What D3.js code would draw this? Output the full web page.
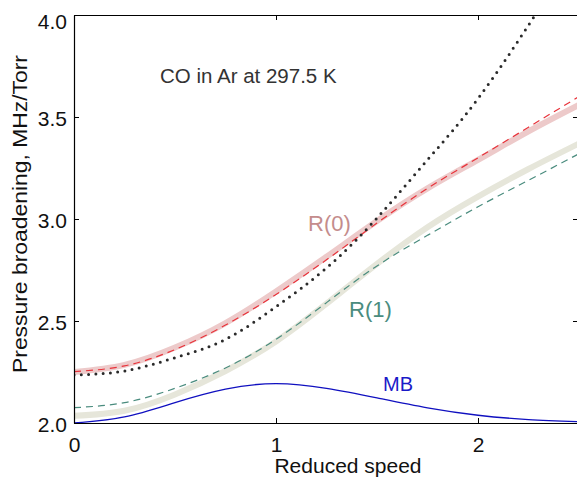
<!DOCTYPE html>
<html>
<head>
<meta charset="utf-8">
<script src="https://cdn.jsdelivr.net/npm/d3@7"></script>
<style>
  body { margin: 0; background: #fff; }
  text { font-family: "Liberation Sans", Arial, sans-serif; }
</style>
</head>
<body>
<svg id="chart"></svg>
<script>
// reduced speed grid used by every curve
var speeds = [0, 0.25, 0.5, 0.75, 1.0, 1.25, 1.5, 1.75, 2.0, 2.25, 2.5];

// R(0) line: measured (thick pink) and calculated (red dashed)
var r0Measured = [2.25, 2.285, 2.37, 2.49, 2.645, 2.815, 2.99, 3.15, 3.29, 3.43, 3.56];
var r0Calc     = [2.252, 2.28, 2.36, 2.48, 2.63, 2.80, 2.98, 3.15, 3.30, 3.45, 3.60];
// R(1) line: measured (thick grey) and calculated (teal dashed)
var r1Measured = [2.035, 2.06, 2.14, 2.255, 2.40, 2.585, 2.78, 2.96, 3.11, 3.245, 3.37];
var r1Calc     = [2.075, 2.10, 2.17, 2.27, 2.41, 2.59, 2.77, 2.92, 3.06, 3.19, 3.32];
// black dotted curve (runs off the top near 2.3)
var dotSpeeds = [0, 0.25, 0.5, 0.75, 1.0, 1.25, 1.5, 1.75, 2.0, 2.25, 2.3];
var dotted    = [2.235, 2.255, 2.32, 2.41, 2.57, 2.76, 3.005, 3.29, 3.59, 3.95, 4.03];
// Maxwell-Boltzmann distribution, drawn on the same axis
var mbValues = [2.0, 2.03, 2.10, 2.166, 2.193, 2.17, 2.123, 2.074, 2.038, 2.017, 2.006];

var yTicks = [2.0, 2.5, 3.0, 3.5, 4.0];
var xTicks = [0, 1, 2];

var W = 577, H = 481;
var svg = d3.select('#chart').attr('width', W).attr('height', H);

var x = d3.scaleLinear().domain([0, 2.5]).range([74, 579]);
var y = d3.scaleLinear().domain([2.0, 4.0]).range([423, 15]);

svg.append('clipPath').attr('id', 'plotclip')
  .append('rect').attr('x', 74).attr('y', 15).attr('width', 505).attr('height', 408);

var plot = svg.append('g').attr('clip-path', 'url(#plotclip)');

function series(xs, ys) {
  return xs.map(function(s, i) { return [s, ys[i]]; });
}
var line = d3.line()
  .x(function(d) { return x(d[0]); })
  .y(function(d) { return y(d[1]); })
  .curve(d3.curveNatural);

// thick light bands first
plot.append('path').attr('d', line(series(speeds, r1Measured)))
  .attr('fill', 'none').attr('stroke', '#e6e6da').attr('stroke-width', 6);
plot.append('path').attr('d', line(series(speeds, r0Measured)))
  .attr('fill', 'none').attr('stroke', '#edcaca').attr('stroke-width', 6);

plot.append('path').attr('d', line(series(speeds, r1Calc)))
  .attr('fill', 'none').attr('stroke', '#4a8c7e').attr('stroke-width', 1.2)
  .attr('stroke-dasharray', '7,5');
plot.append('path').attr('d', line(series(speeds, r0Calc)))
  .attr('fill', 'none').attr('stroke', '#e8323a').attr('stroke-width', 1.2)
  .attr('stroke-dasharray', '7,5');

plot.append('path').attr('d', line(series(dotSpeeds, dotted)))
  .attr('fill', 'none').attr('stroke', '#2a2a2a').attr('stroke-width', 3)
  .attr('stroke-linecap', 'round').attr('stroke-dasharray', '0,7.3');

plot.append('path').attr('d', line(series(speeds, mbValues)))
  .attr('fill', 'none').attr('stroke', '#1010c0').attr('stroke-width', 1.3);

// axes: box with inward ticks
var yAxis = svg.append('g').attr('transform', 'translate(74,0)')
  .call(d3.axisLeft(y).tickValues(yTicks).tickFormat(d3.format('.1f'))
    .tickSizeInner(-5).tickSizeOuter(0).tickPadding(7));
yAxis.selectAll('text')
  .attr('dy', function(d) { return d === 4.0 ? '0.62em' : '0.42em'; });

var xAxis = svg.append('g').attr('transform', 'translate(0,423)')
  .call(d3.axisBottom(x).tickValues(xTicks).tickFormat(d3.format('d'))
    .tickSizeInner(-5).tickSizeOuter(0).tickPadding(14));

svg.append('g').attr('transform', 'translate(0,15)')
  .call(d3.axisTop(x).tickValues(xTicks).tickFormat('')
    .tickSizeInner(-5).tickSizeOuter(0));
svg.append('g').attr('transform', 'translate(578,0)')
  .call(d3.axisRight(y).tickValues(yTicks).tickFormat('')
    .tickSizeInner(-5).tickSizeOuter(0));

svg.selectAll('.domain').attr('stroke', '#000').attr('stroke-width', 1.2);
svg.selectAll('.tick line').attr('stroke', '#000');
svg.selectAll('.tick text').attr('font-size', 21).attr('fill', '#111')
  .attr('font-family', '"Liberation Sans", Arial, sans-serif');

// axis titles
svg.append('text')
  .attr('transform', 'translate(27,' + 214 + ') rotate(-90)')
  .attr('text-anchor', 'middle').attr('font-size', 21).attr('fill', '#111')
  .attr('textLength', 318).attr('lengthAdjust', 'spacingAndGlyphs')
  .text('Pressure broadening, MHz/Torr');
svg.append('text')
  .attr('x', 348).attr('y', 473)
  .attr('text-anchor', 'middle').attr('font-size', 21).attr('fill', '#111')
  .text('Reduced speed');

// annotations
svg.append('text').attr('x', 160).attr('y', 82.5)
  .attr('font-size', 20.5).attr('fill', '#333')
  .text('CO in Ar at 297.5 K');
svg.append('text').attr('x', 308).attr('y', 231)
  .attr('font-size', 22).attr('fill', '#c48c8c').text('R(0)');
svg.append('text').attr('x', 349).attr('y', 317)
  .attr('font-size', 22).attr('fill', '#4a8c7e').text('R(1)');
svg.append('text').attr('x', 383).attr('y', 391)
  .attr('font-size', 20).attr('fill', '#1a1ac8').text('MB');
</script>
</body>
</html>
